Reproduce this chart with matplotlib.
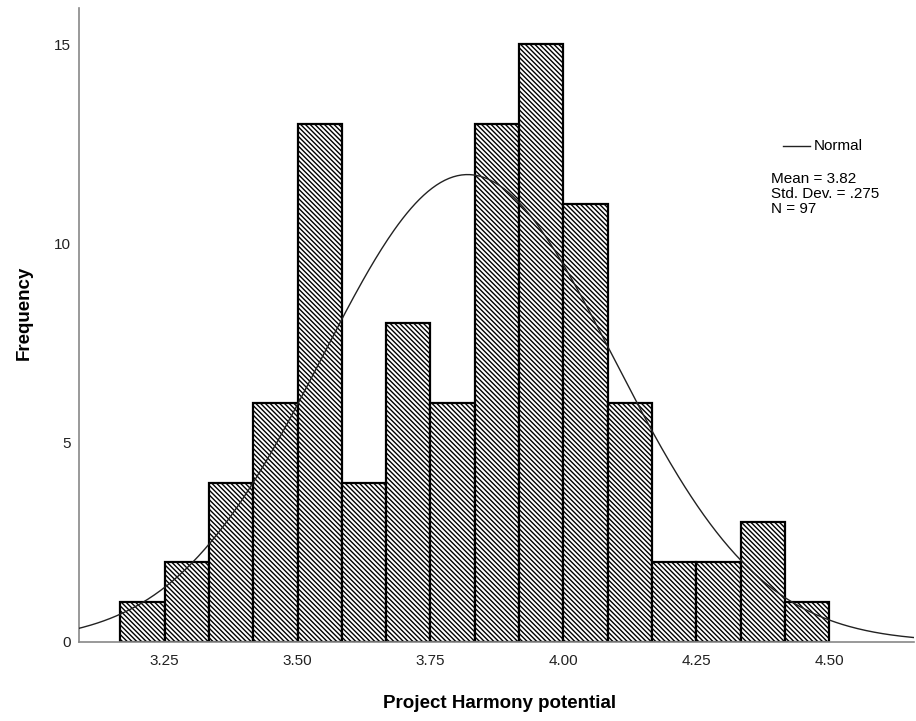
import numpy as np
import matplotlib
matplotlib.use('Agg')
import matplotlib.pyplot as plt

plt.rcParams['font.family'] = ['Liberation Sans', 'DejaVu Sans']
plt.rcParams['hatch.linewidth'] = 1.0

# histogram data
bin_left = 3.1667
bin_width = 1.0 / 12
counts = [1, 2, 4, 6, 13, 4, 8, 6, 13, 15, 11, 6, 2, 2, 3, 1]
xticks = [3.25, 3.50, 3.75, 4.00, 4.25, 4.50]
yticks = [0, 5, 10, 15]
mean = 3.82
sd = 0.275
n = 97

fig = plt.figure(figsize=(9.16, 7.21), dpi=100)
ax = fig.add_axes([0.0862, 0.1096, 0.912, 0.879])

lefts = bin_left + bin_width * np.arange(len(counts))
ax.bar(lefts, counts, width=bin_width, align='edge', color='white',
       edgecolor='black', linewidth=1.6, hatch='\\' * 7, zorder=2)

# fitted normal curve
xs = np.linspace(3.08, 4.66, 400)
ys = n * bin_width / (sd * np.sqrt(2 * np.pi)) * np.exp(-0.5 * ((xs - mean) / sd) ** 2)
ax.plot(xs, ys, color='#222222', linewidth=1.0, zorder=3)

ax.set_xlim(3.089, 4.66)
ax.set_ylim(0, 15.9)
ax.set_xticks(xticks)
ax.set_xticklabels(['%.2f' % t for t in xticks])
ax.set_yticks(yticks)
ax.tick_params(length=0, labelsize=11, colors='#222222')
ax.tick_params(axis='x', pad=9)
ax.tick_params(axis='y', pad=6)

for s in ['top', 'right']:
    ax.spines[s].set_visible(False)
for s in ['left', 'bottom']:
    ax.spines[s].set_color('#888888')
    ax.spines[s].set_linewidth(1.2)

ax.set_xlabel('Project Harmony potential', fontsize=13.5, fontweight='bold')
ax.set_ylabel('Frequency', fontsize=13.5, fontweight='bold')
ax.xaxis.set_label_coords(0.503, -0.0836)
ax.yaxis.set_label_coords(-0.055, 0.52)

# legend / stats box
fig.add_artist(plt.Line2D([783 / 916, 810 / 916], [1 - 146 / 721] * 2,
                          color='#222222', linewidth=1.0))
fig.text(814 / 916, 1 - 146 / 721, 'Normal', fontsize=11, va='center', ha='left')
fig.text(771 / 916, 1 - 172 / 721, 'Mean = 3.82\nStd. Dev. = .275\nN = 97',
         fontsize=11, va='top', ha='left', linespacing=1.1)

fig.savefig('out.png', dpi=100)
